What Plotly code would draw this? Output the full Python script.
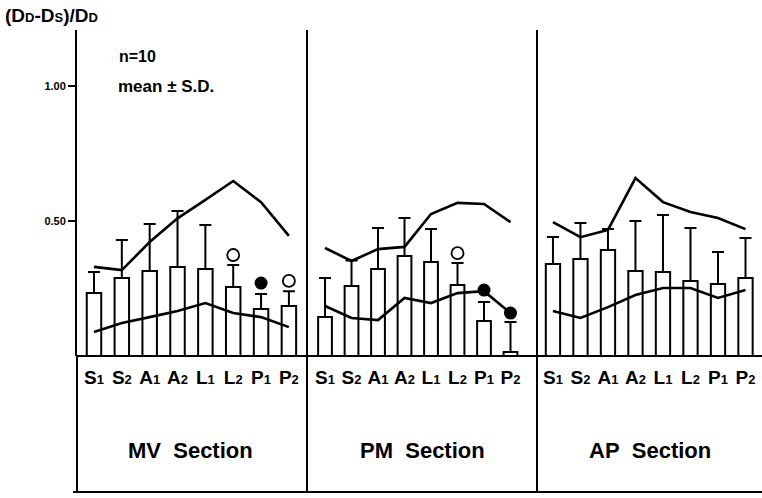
import plotly.graph_objects as go

# Site categories (shared by the three sections)
sites = ["S1", "S2", "A1", "A2", "L1", "L2", "P1", "P2"]
sections = ["MV\u00a0\u00a0Section", "PM\u00a0\u00a0Section", "AP\u00a0\u00a0Section"]

# Mean and S.D. of (DD-DS)/DD per site
mv_mean = [0.233, 0.289, 0.315, 0.330, 0.322, 0.256, 0.174, 0.185]
mv_sd   = [0.078, 0.141, 0.174, 0.207, 0.163, 0.081, 0.056, 0.055]
pm_mean = [0.144, 0.259, 0.322, 0.370, 0.348, 0.263, 0.130, 0.015]
pm_sd   = [0.145, 0.095, 0.152, 0.141, 0.122, 0.081, 0.070, 0.111]
ap_mean = [0.341, 0.359, 0.393, 0.315, 0.311, 0.278, 0.267, 0.289]
ap_sd   = [0.100, 0.134, 0.077, 0.185, 0.211, 0.196, 0.118, 0.148]

# Upper and lower reference curves
mv_upper = [0.330, 0.318, 0.422, 0.510, 0.578, 0.648, 0.570, 0.445]
mv_lower = [0.089, 0.122, 0.144, 0.167, 0.196, 0.159, 0.144, 0.107]
pm_upper = [0.400, 0.352, 0.396, 0.404, 0.526, 0.567, 0.563, 0.496]
pm_lower = [0.185, 0.141, 0.133, 0.215, 0.196, 0.233, 0.240, 0.159]
ap_upper = [0.496, 0.440, 0.467, 0.659, 0.570, 0.533, 0.511, 0.470]
ap_lower = [0.167, 0.141, 0.181, 0.226, 0.252, 0.252, 0.215, 0.244]

# Significance markers: (site index, value)
mv_open = [(5, 0.374), (7, 0.278)]
mv_filled = [(6, 0.270)]
pm_open = [(5, 0.381)]
pm_filled = [(6, 0.244), (7, 0.159)]
ap_open = []
ap_filled = []

W, H = 762, 498
FONT = "Liberation Sans, Arial, sans-serif"


def small(s, size):
    return f"<span style='font-size:{size}px'>{s}</span>"


# Site labels: letter followed by a small index digit
site_labels = [f"<b>{s[0]}{small(s[1], 13)}</b>" for s in sites]


def px(x):
    return x / W


def py(y):
    return 1 - y / H


y_base, y_top = 356, 30
y_range = [0, (y_base - y_top) / 270]

panels = [
    dict(mean=mv_mean, sd=mv_sd, up=mv_upper, lo=mv_lower, op=mv_open, fi=mv_filled,
         dom=(77, 307), rng=[-0.61, 7.65]),
    dict(mean=pm_mean, sd=pm_sd, up=pm_upper, lo=pm_lower, op=pm_open, fi=pm_filled,
         dom=(307, 537), rng=[-0.68, 8.0]),
    dict(mean=ap_mean, sd=ap_sd, up=ap_upper, lo=ap_lower, op=ap_open, fi=ap_filled,
         dom=(537, 762), rng=[-0.58, 7.6]),
]

fig = go.Figure()
idx = list(range(len(sites)))

for i, p in enumerate(panels):
    xa = "x" if i == 0 else f"x{i+1}"
    fig.add_trace(go.Bar(
        x=idx, y=p["mean"], xaxis=xa, yaxis="y", width=0.52,
        marker=dict(color="white", line=dict(color="black", width=2)),
        error_y=dict(type="data", symmetric=False, array=p["sd"],
                     arrayminus=[0] * len(sites), color="black",
                     thickness=2, width=6),
        showlegend=False))
    for curve in (p["up"], p["lo"]):
        fig.add_trace(go.Scatter(
            x=idx, y=curve, xaxis=xa, yaxis="y", mode="lines",
            line=dict(color="black", width=2.6), showlegend=False))
    if p["op"]:
        fig.add_trace(go.Scatter(
            x=[k for k, _ in p["op"]], y=[v for _, v in p["op"]], xaxis=xa, yaxis="y",
            mode="markers",
            marker=dict(symbol="circle-open", size=12, color="black", line=dict(width=1.8)),
            showlegend=False))
    if p["fi"]:
        fig.add_trace(go.Scatter(
            x=[k for k, _ in p["fi"]], y=[v for _, v in p["fi"]], xaxis=xa, yaxis="y",
            mode="markers", marker=dict(symbol="circle", size=13, color="black"),
            showlegend=False))

layout = dict(
    width=W, height=H, margin=dict(l=0, r=0, t=0, b=0),
    paper_bgcolor="white", plot_bgcolor="rgba(0,0,0,0)",
    font=dict(family=FONT, color="black"),
    yaxis=dict(domain=[py(y_base), py(y_top)], range=y_range, showgrid=False,
               zeroline=False, showline=True, linecolor="black", linewidth=2,
               ticks="outside", ticklen=7, tickwidth=1.5, tickcolor="black",
               tickvals=[0.5, 1.0], ticktext=["<b>0.50</b>", "<b>1.00</b>"],
               tickfont=dict(size=11, family=FONT), anchor="x"),
)
for i, p in enumerate(panels):
    key = "xaxis" if i == 0 else f"xaxis{i+1}"
    layout[key] = dict(domain=[px(p["dom"][0]), px(p["dom"][1])], range=p["rng"],
                       anchor="y", showgrid=False, zeroline=False, showline=False,
                       tickvals=idx, ticktext=site_labels, ticks="",
                       tickfont=dict(size=19, family=FONT), ticklabelstandoff=8)
fig.update_layout(**layout)

# Frame lines: baseline, section dividers and lower box
line = dict(color="black", width=2)
shapes = [
    dict(type="line", xref="paper", yref="paper", x0=px(77), x1=1, y0=py(y_base), y1=py(y_base), line=line),
    dict(type="line", xref="paper", yref="paper", x0=px(77), x1=px(77), y0=py(y_base), y1=py(492), line=line),
    dict(type="line", xref="paper", yref="paper", x0=px(307), x1=px(307), y0=py(y_top), y1=py(492), line=line),
    dict(type="line", xref="paper", yref="paper", x0=px(537), x1=px(537), y0=py(y_top), y1=py(492), line=line),
    dict(type="line", xref="paper", yref="paper", x0=px(73), x1=1, y0=py(492), y1=py(492), line=line),
]
fig.update_layout(shapes=shapes)

# Section titles and texts
centers = [190, 422, 650]
for name, cx in zip(sections, centers):
    fig.add_annotation(x=px(cx), y=py(450), xref="paper", yref="paper", text=f"<b>{name}</b>",
                       showarrow=False, font=dict(size=22, family=FONT), xanchor="center", yanchor="middle")
title = f"<b>(D{small('D', 13)}-D{small('S', 13)})/D{small('D', 13)}</b>"
fig.add_annotation(x=px(3), y=py(16), xref="paper", yref="paper", text=title, showarrow=False,
                   font=dict(size=19, family=FONT), xanchor="left", yanchor="middle")
fig.add_annotation(x=px(117), y=py(57), xref="paper", yref="paper", text="<b>n=10</b>",
                   showarrow=False, font=dict(size=16, family=FONT), xanchor="left", yanchor="middle")
fig.add_annotation(x=px(116), y=py(86), xref="paper", yref="paper", text="<b>mean ± S.D.</b>",
                   showarrow=False, font=dict(size=17, family=FONT), xanchor="left", yanchor="middle")

fig.write_html("out.html")
